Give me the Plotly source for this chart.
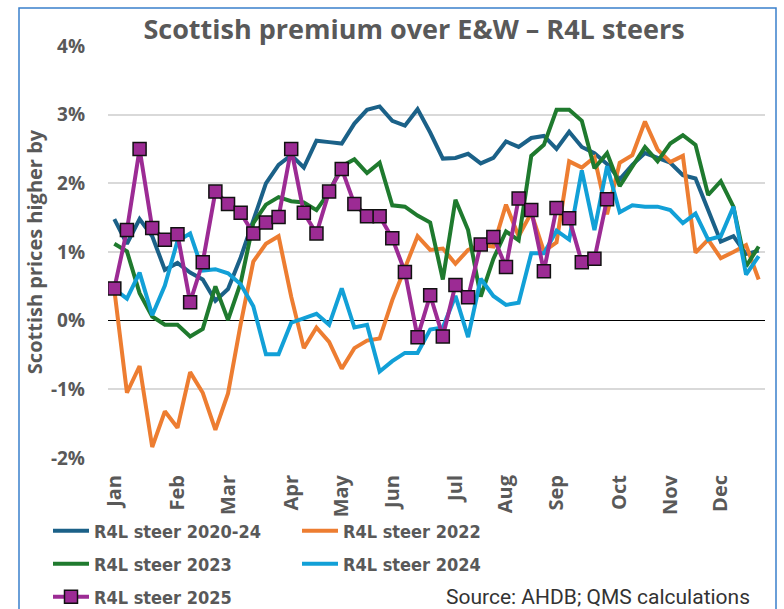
import plotly.graph_objects as go

# weekly index (week 0 = first week of Jan)
weeks = list(range(52))
month_weeks = [0, 5, 9, 14, 18, 22, 27, 31, 35, 40, 44, 48]
month_labels = ["Jan", "Feb", "Mar", "Apr", "May", "Jun",
                "Jul", "Aug", "Sep", "Oct", "Nov", "Dec"]

# Scottish premium over E&W, %
avg_2020_24 = [1.48, 1.12, 1.48, 1.23, 0.74, 0.84, 0.70, 0.60, 0.29, 0.46,
               0.92, 1.46, 2.00, 2.27, 2.41, 2.23, 2.62, 2.60, 2.58, 2.87,
               3.07, 3.12, 2.91, 2.84, 3.08, 2.74, 2.36, 2.37, 2.43, 2.29,
               2.37, 2.61, 2.53, 2.66, 2.69, 2.50, 2.75, 2.53, 2.44, 2.28,
               2.06, 2.27, 2.44, 2.37, 2.30, 2.12, 2.07, 1.61, 1.15, 1.23,
               0.97, 1.02]
steer_2022 = [0.45, -1.05, -0.66, -1.84, -1.32, -1.56, -0.75, -1.05, -1.59, -1.06,
              -0.05, 0.86, 1.12, 1.23, 0.35, -0.40, -0.10, -0.31, -0.70, -0.40,
              -0.29, -0.26, 0.30, 0.75, 1.23, 1.03, 1.05, 0.83, 1.03, 1.10,
              1.08, 1.69, 1.23, 1.57, 1.01, 1.14, 2.32, 2.23, 2.38, 1.55,
              2.30, 2.41, 2.90, 2.49, 2.31, 2.40, 0.99, 1.18, 0.91, 1.00,
              1.10, 0.60]
steer_2023 = [1.12, 1.01, 0.40, 0.06, -0.06, -0.06, -0.23, -0.12, 0.50, 0.01,
              0.55, 1.42, 1.69, 1.80, 1.74, 1.72, 1.61, 1.87, 2.25, 2.35,
              2.15, 2.30, 1.68, 1.66, 1.53, 1.43, 0.60, 1.76, 1.32, 0.35,
              0.90, 1.30, 1.17, 2.40, 2.56, 3.07, 3.07, 2.91, 2.22, 2.44,
              1.96, 2.24, 2.53, 2.32, 2.58, 2.70, 2.56, 1.83, 2.03, 1.66,
              0.79, 1.08]
steer_2024 = [0.46, 0.32, 0.70, 0.08, 0.51, 1.16, 1.27, 0.73, 0.75, 0.69,
              0.53, 0.21, -0.49, -0.49, -0.03, 0.04, 0.10, -0.06, 0.47, -0.10,
              -0.06, -0.74, -0.59, -0.47, -0.47, -0.13, -0.10, 0.36, -0.24, 0.61,
              0.36, 0.23, 0.26, 0.98, 0.98, 1.31, 1.18, 2.19, 1.32, 2.25,
              1.58, 1.68, 1.66, 1.66, 1.61, 1.42, 1.56, 1.18, 1.23, 1.66,
              0.67, 0.94]
steer_2025 = [0.47, 1.32, 2.50, 1.35, 1.18, 1.26, 0.27, 0.85, 1.88, 1.70,
              1.57, 1.27, 1.43, 1.51, 2.50, 1.57, 1.27, 1.88, 2.21, 1.70,
              1.52, 1.52, 1.20, 0.71, -0.24, 0.37, -0.23, 0.52, 0.34, 1.11,
              1.22, 0.78, 1.78, 1.61, 0.72, 1.64, 1.49, 0.85, 0.90, 1.77]

# name, values, colour, legend row
series = [
    ("R4L steer 2020-24", avg_2020_24, "#1B6188", "legend"),
    ("R4L steer 2022", steer_2022, "#ED7D31", "legend"),
    ("R4L steer 2023", steer_2023, "#1F7A2E", "legend2"),
    ("R4L steer 2024", steer_2024, "#12A0D7", "legend2"),
]

grey = "#595959"
leg_font = dict(family="DejaVu Sans Condensed, Roboto, sans-serif",
                size=18, color=grey, weight=700)

fig = go.Figure()

for name, vals, col, leg in series:
    fig.add_trace(go.Scatter(
        x=weeks[:len(vals)], y=[v / 100 for v in vals],
        mode="lines", name=name, legend=leg,
        line=dict(color=col, width=4),
    ))

fig.add_trace(go.Scatter(
    x=weeks[:len(steer_2025)], y=[v / 100 for v in steer_2025],
    mode="lines+markers", name="R4L steer 2025", legend="legend3",
    line=dict(color="#9C2B94", width=4),
    marker=dict(symbol="square", size=13, color="#9C2B94",
                line=dict(color="#111111", width=1.5)),
))


def row_legend(y_px):
    return dict(orientation="h", xref="container", x=48 / 784,
                yref="container", y=1 - y_px / 609, yanchor="middle",
                entrywidth=198, itemwidth=36, font=leg_font,
                bgcolor="rgba(0,0,0,0)")


fig.update_layout(
    width=784, height=609,
    margin=dict(l=108, r=19, t=46, b=151),
    paper_bgcolor="white", plot_bgcolor="white",
    font=dict(family="Open Sans, sans-serif", color=grey),
    title=dict(text="<b>Scottish premium over E&W – R4L steers</b>",
               xref="container", x=414 / 784, xanchor="center",
               yref="container", y=1 - 30 / 609, yanchor="middle",
               font=dict(size=27, color=grey)),
    showlegend=True,
    legend=row_legend(531),
    legend2=row_legend(564),
    legend3=row_legend(597),
    xaxis=dict(range=[-0.5, 51.5], tickmode="array", tickvals=month_weeks,
               ticktext=["<b>%s</b>" % m for m in month_labels],
               tickangle=-90, showgrid=False, zeroline=False, automargin=False,
               showline=False, ticks="", ticklabelstandoff=12,
               tickfont=dict(size=20, color=grey)),
    yaxis=dict(range=[-0.02, 0.04], automargin=False,
               tickvals=[-0.02, -0.01, 0, 0.01, 0.02, 0.03, 0.04],
               ticktext=["<b>%d%%</b>" % v for v in [-2, -1, 0, 1, 2, 3, 4]],
               showgrid=True, gridcolor="#D9D9D9", gridwidth=1.5,
               zeroline=True, zerolinecolor="#000000", zerolinewidth=1.2,
               showline=False, ticks="", ticklabelstandoff=22,
               tickfont=dict(size=19, color=grey),
               title=dict(text="<b>Scottish prices higher by</b>", standoff=2,
                          font=dict(size=20, color=grey))),
)

fig.add_annotation(text="Source: AHDB; QMS calculations",
                   xref="paper", yref="paper", x=(752 - 108) / 657,
                   y=(458 - 597) / 412, xanchor="right", yanchor="middle",
                   showarrow=False,
                   font=dict(family="Roboto, sans-serif", size=21, color="#333333"))

# chart frame
fig.add_shape(type="rect", xref="paper", yref="paper",
              x0=(19 - 108) / 657, x1=(776 - 108) / 657,
              y0=(458 - 640) / 412, y1=(458 - 8) / 412,
              line=dict(color="#3A80CC", width=1.5), fillcolor="rgba(0,0,0,0)",
              layer="below")

# drop the browser's default body margin so the figure sits at the page corner
fig.write_html("out.html", config={"displayModeBar": False},
               post_script="document.body.style.margin = '0';")
